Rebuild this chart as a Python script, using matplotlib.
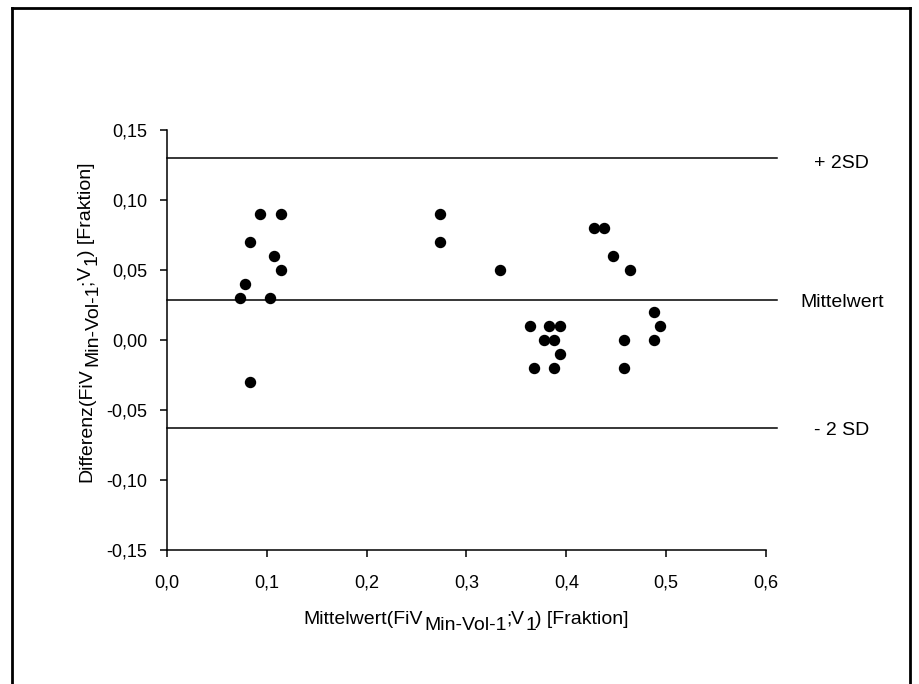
import numpy as np
import matplotlib
matplotlib.use("Agg")
import matplotlib.pyplot as plt
from matplotlib.lines import Line2D
from matplotlib.transforms import IdentityTransform

plt.rcParams['font.family'] = ['Liberation Sans', 'DejaVu Sans']

# Bland-Altman data: mean of both methods vs difference
mittelwert = [0.073, 0.078, 0.083, 0.093, 0.114, 0.107, 0.114, 0.103, 0.083,
              0.274, 0.274, 0.334,
              0.364, 0.368, 0.378, 0.383, 0.388, 0.388, 0.394, 0.394,
              0.428, 0.438, 0.447, 0.464, 0.458, 0.458, 0.488, 0.494, 0.488]
differenz = [0.03, 0.04, 0.07, 0.09, 0.09, 0.06, 0.05, 0.03, -0.03,
             0.09, 0.07, 0.05,
             0.01, -0.02, 0.00, 0.01, 0.00, -0.02, 0.01, -0.01,
             0.08, 0.08, 0.06, 0.05, 0.00, -0.02, 0.02, 0.01, 0.00]

mean_diff = 0.0286
plus_2sd = 0.130
minus_2sd = -0.0629
line_labels = ["+ 2SD", "Mittelwert", "- 2 SD"]

# axis label pieces: (text, is_subscript)
xlabel_parts = [("Mittelwert(FiV", False), ("Min-Vol-1", True), (";", False),
                ("V", False), ("1", True), (") [Fraktion]", False)]
ylabel_parts = [("Differenz(FiV", False), ("Min-Vol-1", True), (";", False),
                ("V", False), ("1", True), (") [Fraktion]", False)]

fig = plt.figure(figsize=(9.2, 6.84), dpi=100)
ax = fig.add_axes([0.1815, 0.196, 0.651, 0.614])

ax.plot(mittelwert, differenz, 'o', color='black', ms=7.2, clip_on=False, zorder=3)

for yv, lab, off in zip([plus_2sd, mean_diff, minus_2sd], line_labels, [-10, -7, -7]):
    ax.plot([0, 0.611], [yv, yv], color='black', lw=1.1, clip_on=False)
    ax.annotate(lab, xy=(0.676, yv), xytext=(0, off), textcoords='offset pixels',
                ha='center', va='baseline', fontsize=14, annotation_clip=False)

ax.set_xlim(0, 0.6)
ax.set_ylim(-0.15, 0.15)
xt = np.arange(0, 0.61, 0.1)
yt = np.arange(-0.15, 0.151, 0.05)
ax.set_xticks(xt)
ax.set_yticks(yt)
ax.set_xticklabels([f"{v:.1f}".replace('.', ',') for v in xt])
ax.set_yticklabels([f"{v:.2f}".replace('.', ',').replace('-0,00', '0,00') for v in yt])
ax.tick_params(direction='out', length=5, width=1.1, labelsize=13)
ax.tick_params(axis='x', pad=13)
ax.tick_params(axis='y', pad=9)

for s in ['top', 'right']:
    ax.spines[s].set_visible(False)
for s in ['left', 'bottom']:
    ax.spines[s].set_linewidth(1.1)

# axis labels with full-size subscripts, laid out piece by piece in pixels
renderer = fig.canvas.get_renderer()
lab_size = 14
sub_shift = 6


def piece_widths(parts):
    ws = []
    for s, _ in parts:
        t = fig.text(0, 0, s, fontsize=lab_size)
        ws.append(t.get_window_extent(renderer).width)
        t.remove()
    return ws


def piece_gaps(parts):
    # a little air before a subscript, tight otherwise
    return [2 if sub else -1 for _, sub in parts[1:]] + [0]


ws = piece_widths(xlabel_parts)
gs = piece_gaps(xlabel_parts)
total = sum(ws) + sum(gs)
x = 466 - total / 2
for (s, sub), w, g in zip(xlabel_parts, ws, gs):
    fig.text(x, 60 - (sub_shift if sub else 0), s, fontsize=lab_size,
             ha='left', va='baseline', transform=IdentityTransform())
    x += w + g

ws = piece_widths(ylabel_parts)
gs = piece_gaps(ylabel_parts)
total = sum(ws) + sum(gs)
y = 362 - total / 2
for (s, sub), w, g in zip(ylabel_parts, ws, gs):
    fig.text(91 + (sub_shift if sub else 0), y, s, fontsize=lab_size, rotation=90,
             rotation_mode='anchor', ha='left', va='baseline', transform=IdentityTransform())
    y += w + g

# outer frame (left, top, right)
fr = dict(color='black', lw=2, transform=fig.transFigure)
fig.add_artist(Line2D([0.013, 0.013], [0, 0.988], **fr))
fig.add_artist(Line2D([0.013, 0.989], [0.988, 0.988], **fr))
fig.add_artist(Line2D([0.989, 0.989], [0, 0.988], **fr))

fig.savefig("out.png", dpi=100)
